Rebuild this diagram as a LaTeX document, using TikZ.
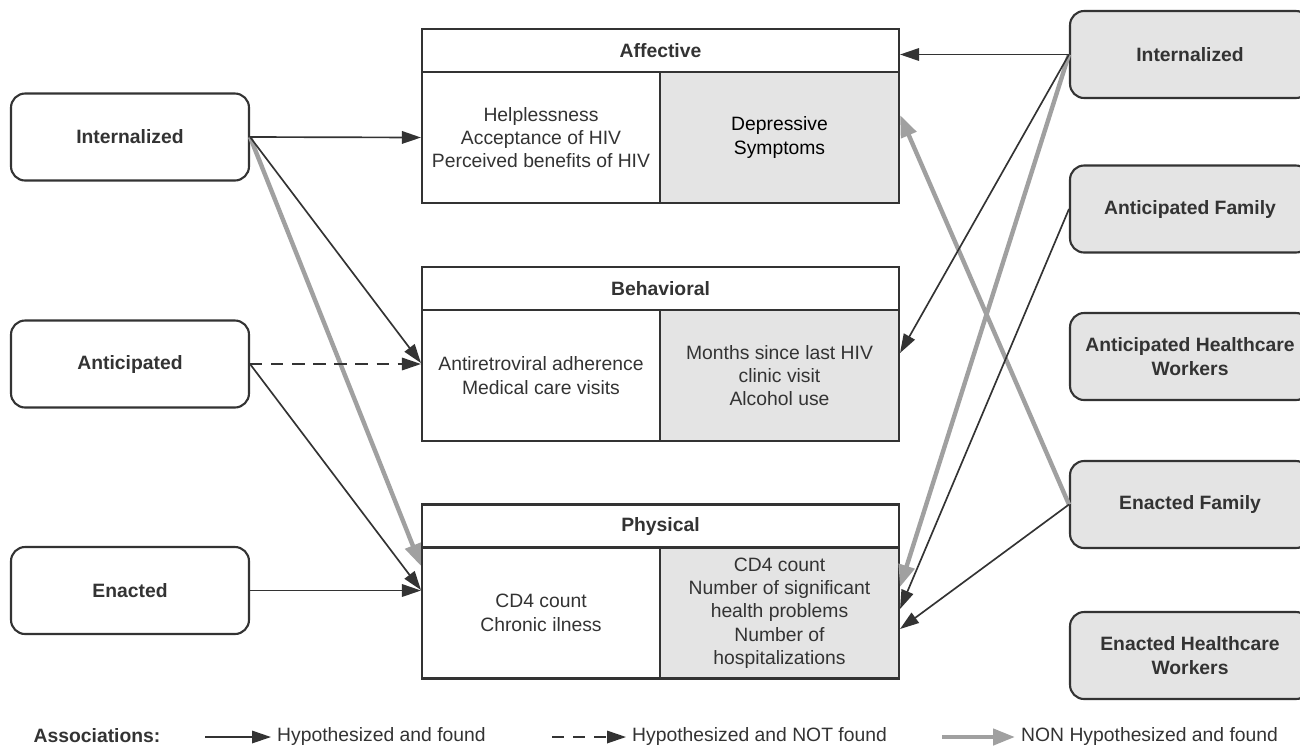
\documentclass[tikz,border=0pt]{standalone}
\usepackage{fontspec}
\setsansfont{Liberation Sans}
\usepackage{tikz}
\usetikzlibrary{arrows.meta,positioning,calc}
\definecolor{ink}{HTML}{333333}
\definecolor{panel}{HTML}{E4E4E4}
\definecolor{nonhyp}{HTML}{A0A0A0}

\begin{document}
\begin{tikzpicture}[x=0.02cm,y=-0.02cm,font=\sffamily\fontsize{11}{13.3}\selectfont,text=ink,
  lbox/.style={draw=ink,line width=1.2pt,rounded corners=8pt,minimum width=4.76cm,minimum height=1.74cm,font=\sffamily\bfseries\fontsize{11}{13.3}\selectfont,align=center},
  rbox/.style={lbox,fill=panel,minimum width=4.8cm},
  head/.style={draw=ink,line width=1.2pt,minimum width=9.54cm,minimum height=0.86cm,font=\sffamily\bfseries\fontsize{11}{13.3}\selectfont},
  cellw/.style={draw=ink,line width=1.2pt,minimum width=4.76cm,minimum height=2.62cm,align=center},
  cellg/.style={cellw,fill=panel,minimum width=4.78cm},
  found/.style={draw=ink,line width=0.95pt,-{Triangle[length=0.38cm,width=0.25cm]}},
  notfound/.style={found,dash pattern=on 7pt off 5pt},
  nonfound/.style={draw=nonhyp,line width=2.5pt,-{Triangle[length=0.44cm,width=0.32cm]}},
  legtext/.style={anchor=west,font=\sffamily\fontsize{11}{13}\selectfont}]
  \clip (0,0) rectangle (1300,748);
  \fill[white] (0,0) rectangle (1300,748);
  \node[lbox] (intL) at (130,137) {Internalized};
  \node[lbox] (antL) at (130,364) {Anticipated};
  \node[lbox] (enaL) at (130,590.5) {Enacted};
  \node[rbox] (intR) at (1190,54.5) {Internalized};
  \node[rbox] (famAnt) at (1190,209) {Anticipated Family};
  \node[rbox] (hcwAnt) at (1190,356.5) {Anticipated Healthcare\\Workers};
  \node[rbox] (famEna) at (1190,504.5) {Enacted Family};
  \node[rbox] (hcwEna) at (1190,655.5) {Enacted Healthcare\\Workers};
  \node[head] (affH) at (660.5,50.5) {Affective};
  \node[cellw] (affL) at (541,137.5) {Helplessness\\Acceptance of HIV\\Perceived benefits of HIV};
  \node[cellg,text=black] (affR) at (779.5,137.5) {Depressive\\Symptoms};
  \node[head] (behH) at (660.5,288.5) {Behavioral};
  \node[cellw] (behL) at (541,375.5) {Antiretroviral adherence\\Medical care visits};
  \node[cellg] (behR) at (779.5,375.5) {Months since last HIV\\clinic visit\\Alcohol use};
  \node[head] (phyH) at (660.5,526) {Physical};
  \node[cellw] (phyL) at (541,613) {CD4 count\\Chronic ilness};
  \node[cellg] (phyR) at (779.5,613) {CD4 count\\Number of significant\\health problems\\Number of\\hospitalizations};
  \draw[nonfound] (intL.east) -- ([yshift=0.94cm]phyL.west);
  \draw[nonfound] (famEna.west) -- ([yshift=0.45cm]affR.east);
  \draw[nonfound] (intR.west) -- ([yshift=0.52cm]phyR.east);
  \draw[found] (intL.east) -- (affL.west);
  \draw[found] (intL.east) -- ([yshift=0.25cm]behL.west);
  \draw[notfound] (antL.east) -- (antL.east -| behL.west);
  \draw[found] (antL.east) -- ([yshift=0.46cm]phyL.west);
  \draw[found] (enaL.east) -- (enaL.east -| phyL.west);
  \draw[found] (intR.west) -- (intR.west -| affH.east);
  \draw[found] (intR.west) -- ([yshift=0.45cm]behR.east);
  \draw[found] (famAnt.west) -- ([yshift=0.08cm]phyR.east);
  \draw[found] (famEna.west) -- ([yshift=-0.32cm]phyR.east);
  \node[font=\sffamily\bfseries\fontsize{11}{13}\selectfont] (assoc) at (97,736) {Associations:};
  \node[legtext] (lg1) at (271,736) {Hypothesized and found};
  \node[legtext] (lg2) at (626,736) {Hypothesized and NOT found};
  \node[legtext] (lg3) at (1015,736) {NON Hypothesized and found};
  \coordinate (lg1s) at (205,737);
  \coordinate (lg2s) at (552,737);
  \coordinate (lg3s) at (942,737);
  \draw[found] (lg1s) -- (lg1s -| lg1.west);
  \draw[notfound] (lg2s) -- (lg2s -| lg2.west);
  \draw[nonfound] (lg3s) -- (lg3s -| lg3.west);
\end{tikzpicture}
\end{document}
